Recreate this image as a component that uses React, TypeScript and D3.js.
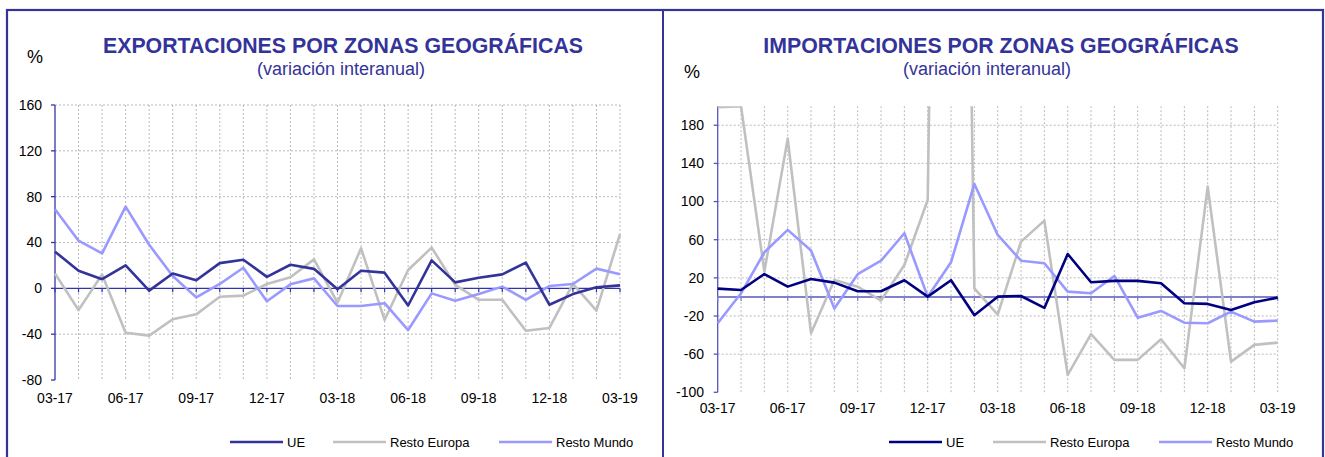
import React from "react";
import * as d3 from "d3";

const months = [
  "03-17","04-17","05-17","06-17","07-17","08-17","09-17","10-17","11-17","12-17","01-18","02-18",
  "03-18","04-18","05-18","06-18","07-18","08-18","09-18","10-18","11-18","12-18","01-19","02-19","03-19",
];
const tickLabels = ["03-17","06-17","09-17","12-17","03-18","06-18","09-18","12-18","03-19"];
const seriesNames = ["UE", "Resto Europa", "Resto Mundo"];

const expUE = [32, 15.4, 8, 20, -2, 13, 7, 22, 25, 10, 20.6, 17, -0.8, 15.4, 13.7, -15, 24.4, 5.2, 9.3, 12.2, 22.4, -14.3, -5, 0.9, 2.6];
const expRE = [13, -19, 12, -38.7, -41.3, -27, -22.7, -7.3, -6.4, 3.8, 9.6, 25.3, -12.5, 35, -27.6, 16, 35.5, 3, -10, -10, -37, -34.6, 3.8, -19.5, 47.4];
const expRM = [69, 41.6, 30.5, 71.3, 38, 10.8, -7.9, 3.8, 18, -11.3, 3.5, 8.7, -15.4, -15.4, -13, -36.4, -4.4, -10.8, -5, 1.5, -10, 2, 3.8, 17.2, 12.2];

const impUE = [8.7, 7.3, 24, 10.8, 18.9, 15, 6, 6, 17.5, 0.3, 17.5, -19.2, 0.3, 1, -11.5, 45, 15.4, 16.8, 16.8, 14.3, -6.6, -7.3, -13.6, -5.6, -0.7];
const impRE = [199, 200, 26.6, 166, -38, 17.8, 10.8, -3.8, 33.5, 101.7, 1700, 9, -18.5, 58, 80, -81.8, -39, -66, -66, -44.4, -74.8, 115.7, -67.8, -50.3, -47.9];
const impRM = [-27.6, 3.8, 46.8, 70.3, 48.6, -12.2, 23.8, 38, 66.8, 0.3, 36.4, 118.5, 65, 38, 35.3, 5.6, 3.8, 22, -21.7, -14.7, -27, -27.6, -15.4, -25.9, -24.8];

const expTicks = [-80, -40, 0, 40, 80, 120, 160];
const impTicks = [-100, -60, -20, 20, 60, 100, 140, 180];

const FONT = "Arial, 'Liberation Sans', sans-serif";
const FRAME = "#333399";

type PanelProps = {
  id: string;
  title: string;
  titleCx: number;
  subX: number;
  pctX: number;
  pctY: number;
  x0: number;
  x1: number;
  yTop: number;
  yBot: number;
  domain: [number, number];
  ticks: number[];
  labelRight: number;
  labelY: number;
  series: number[][];
  colors: string[];
  zeroColor: string;
  zeroWidth: number;
  axisColor: string;
  legendX: number[];
};

function Panel(p: PanelProps) {
  const x = d3.scalePoint<string>().domain(months).range([p.x0, p.x1]);
  const y = d3.scaleLinear().domain(p.domain).range([p.yBot, p.yTop]);
  const line = d3
    .line<number>()
    .x((_, i) => x(months[i]) as number)
    .y((d) => y(d));
  const grid = "#a8a8a8";
  return (
    <g>
      <text x={p.titleCx} y={53} textAnchor="middle" fontFamily={FONT} fontWeight="bold" fontSize={21.3} fill={FRAME}>
        {p.title}
      </text>
      <text x={p.subX} y={75} fontFamily={FONT} fontSize={18} fill={FRAME}>
        (variación interanual)
      </text>
      <text x={p.pctX} y={p.pctY} fontFamily={FONT} fontSize={18} fill="#000">
        %
      </text>
      <defs>
        <clipPath id={p.id + "clip"}>
          <rect x={p.x0 - 2} y={p.yTop} width={p.x1 - p.x0 + 4} height={p.yBot - p.yTop} />
        </clipPath>
      </defs>
      {/* vertical gridlines */}
      {months.slice(1).map((m) => (
        <line key={"v" + m} x1={x(m)} x2={x(m)} y1={p.yTop} y2={p.yBot} stroke={grid} strokeWidth={0.8} strokeDasharray="2 2" />
      ))}
      {/* horizontal gridlines */}
      {p.ticks.filter((t) => t !== p.domain[0] && t !== 0).map((t) => (
        <line key={"h" + t} x1={p.x0} x2={p.x1} y1={y(t)} y2={y(t)} stroke={grid} strokeWidth={0.8} strokeDasharray="2 2" />
      ))}
      {/* y axis */}
      <line x1={p.x0} x2={p.x0} y1={y(p.domain[1])} y2={p.yBot} stroke={p.axisColor} strokeWidth={1.3} />
      {p.ticks.map((t) => (
        <g key={"yt" + t}>
          <line x1={p.x0 - 4} x2={p.x0} y1={y(t)} y2={y(t)} stroke={p.axisColor} strokeWidth={1.3} />
          <text x={p.labelRight} y={y(t)} dy="0.35em" textAnchor="end" fontFamily={FONT} fontSize={14} fill="#000">
            {t}
          </text>
        </g>
      ))}
      {/* zero line with ticks */}
      <line x1={p.x0} x2={p.x1} y1={y(0)} y2={y(0)} stroke={p.zeroColor} strokeWidth={p.zeroWidth} />
      {months.map((m) => (
        <line key={"xt" + m} x1={x(m)} x2={x(m)} y1={y(0)} y2={y(0) + 4} stroke={p.zeroColor} strokeWidth={1.2} />
      ))}
      {tickLabels.map((m) => (
        <text key={"xl" + m} x={x(m)} y={p.labelY} textAnchor="middle" fontFamily={FONT} fontSize={14} fill="#000">
          {m}
        </text>
      ))}
      {/* series: draw gray, light, then dark */}
      <g clipPath={`url(#${p.id}clip)`}>
        {[1, 2, 0].map((k) => (
          <path key={"s" + k} d={line(p.series[k]) as string} fill="none" stroke={p.colors[k]} strokeWidth={2.6} strokeLinejoin="round" />
        ))}
      </g>
      {/* legend */}
      {seriesNames.map((n, k) => (
        <g key={"lg" + n}>
          <line x1={p.legendX[k]} x2={p.legendX[k] + 53} y1={442} y2={442} stroke={p.colors[k]} strokeWidth={2.6} />
          <text x={p.legendX[k] + 57} y={446.5} fontFamily={FONT} fontSize={13} fill="#000">
            {n}
          </text>
        </g>
      ))}
    </g>
  );
}

export default function App() {
  return (
    <svg width={1325} height={457} style={{ position: "absolute", left: 0, top: 0, background: "#fff" }}>
      <rect x={0} y={0} width={1325} height={457} fill="#fff" />
      <rect x={7} y={10} width={1316} height={470} fill="none" stroke={FRAME} strokeWidth={2.2} />
      <line x1={663} x2={663} y1={10} y2={457} stroke={FRAME} strokeWidth={2} />
      <Panel
        id="exp"
        title="EXPORTACIONES POR ZONAS GEOGRÁFICAS"
        titleCx={343}
        subX={257}
        pctX={27}
        pctY={63}
        x0={55}
        x1={620}
        yTop={105}
        yBot={380}
        domain={[-80, 160]}
        ticks={expTicks}
        labelRight={42}
        labelY={403}
        series={[expUE, expRE, expRM]}
        colors={["#333399", "#c0c0c0", "#9999ff"]}
        zeroColor="#3333aa"
        zeroWidth={1.2}
        axisColor="#3333aa"
        legendX={[230, 333, 499]}
      />
      <Panel
        id="imp"
        title="IMPORTACIONES POR ZONAS GEOGRÁFICAS"
        titleCx={1001}
        subX={903}
        pctX={684}
        pctY={78}
        x0={717.7}
        x1={1277.7}
        yTop={106.2}
        yBot={392.3}
        domain={[-100, 200]}
        ticks={impTicks}
        labelRight={704}
        labelY={413}
        series={[impUE, impRE, impRM]}
        colors={["#000080", "#c0c0c0", "#9999ff"]}
        zeroColor="#8080cc"
        zeroWidth={2}
        axisColor="#5555bb"
        legendX={[889, 993, 1159]}
      />
    </svg>
  );
}
